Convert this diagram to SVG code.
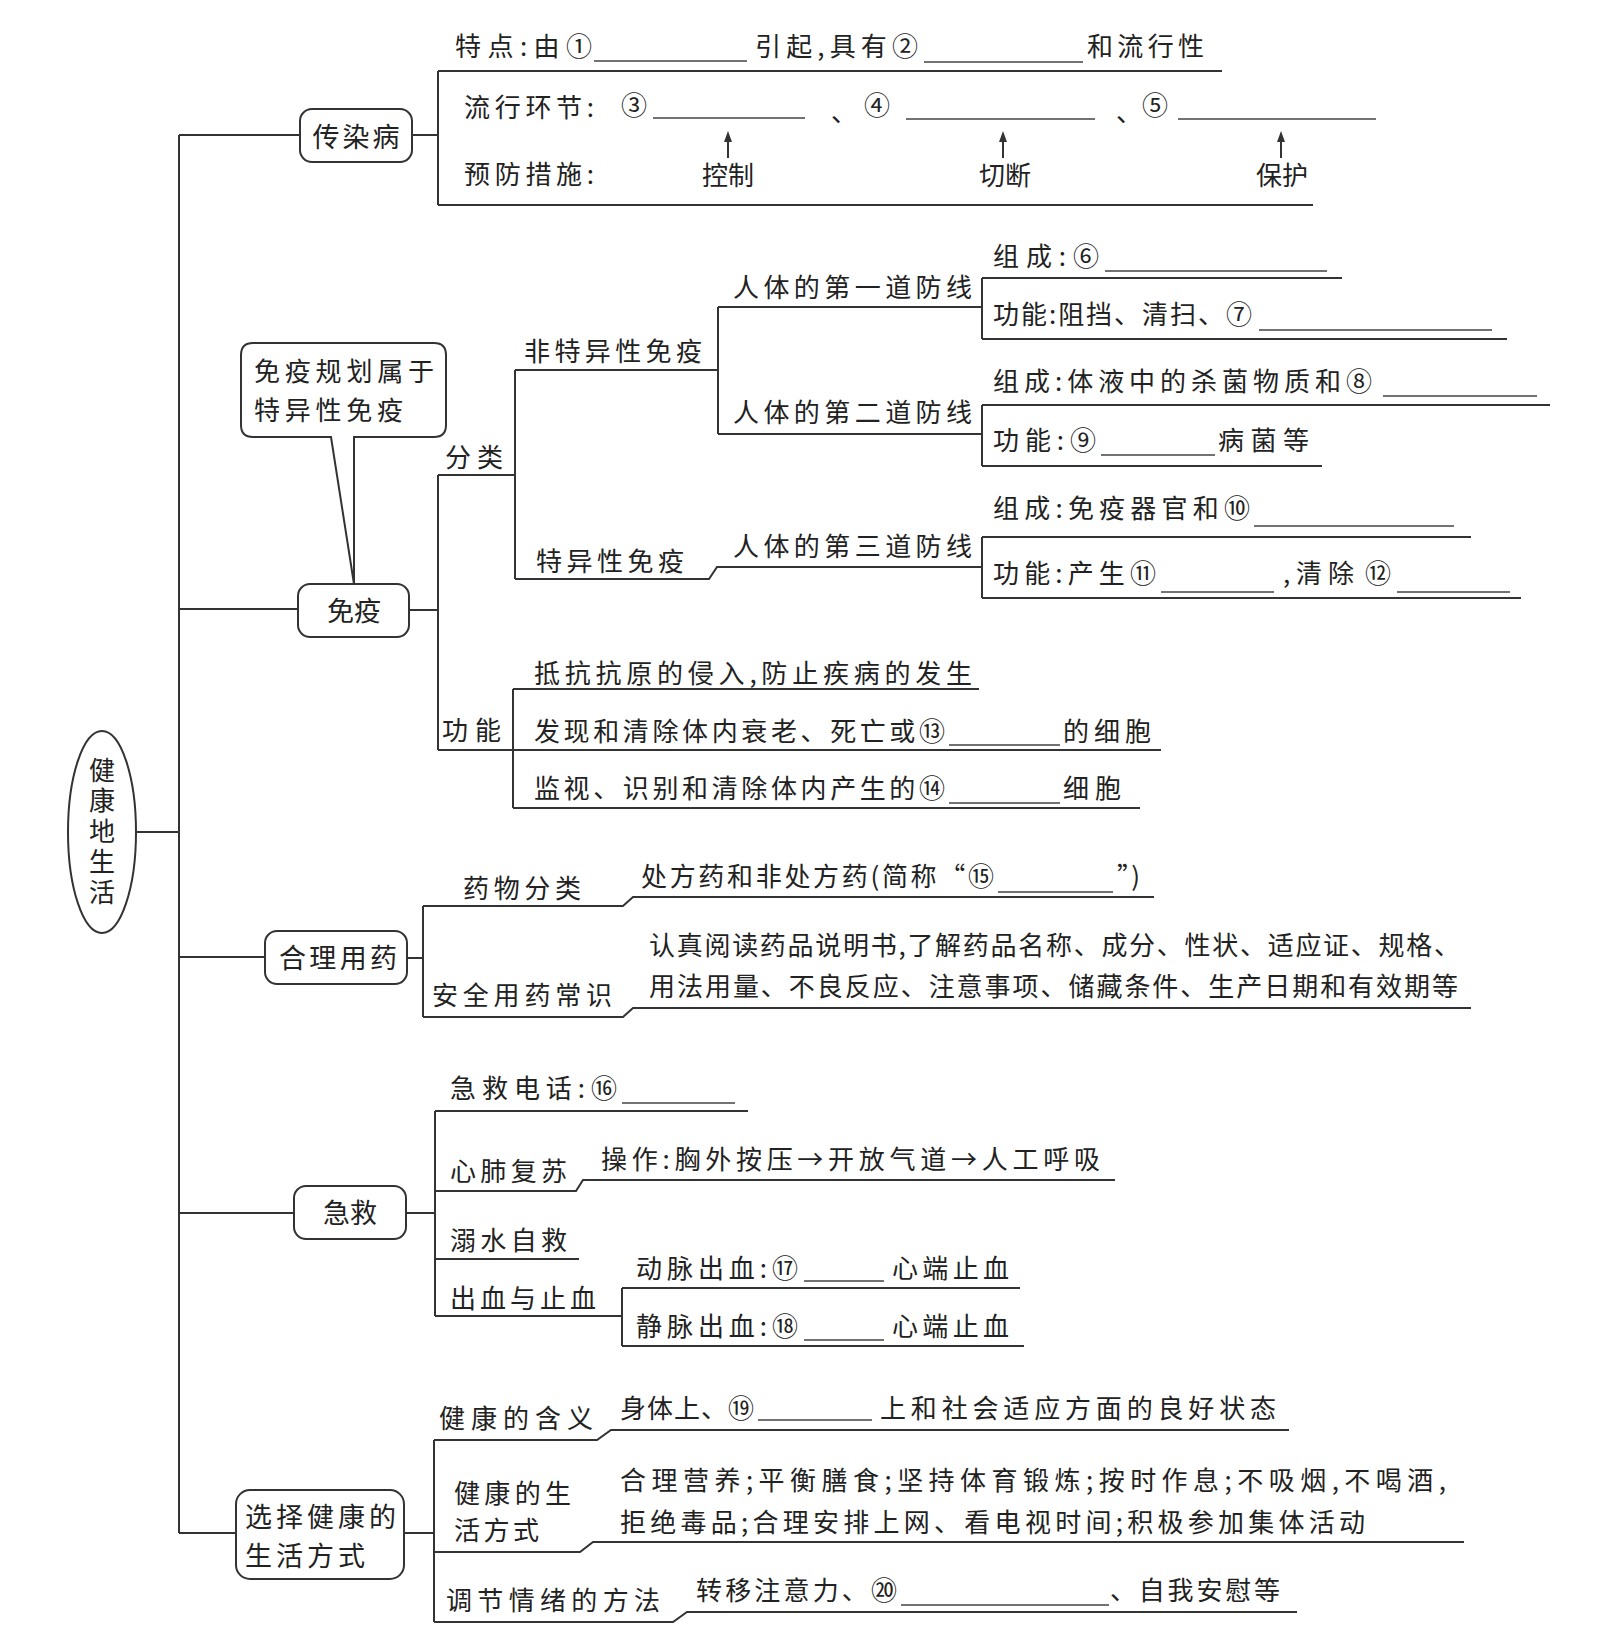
<svg xmlns="http://www.w3.org/2000/svg" width="1608" height="1650" viewBox="0 0 1608 1650">
<style>
.t{font-family:"Noto Sans CJK SC","Noto Sans CJK JP",sans-serif;font-size:26px;fill:#222}
.bt{font-family:"Noto Sans CJK SC","Noto Sans CJK JP",sans-serif;font-size:27px;fill:#222}
.l{stroke:#333;stroke-width:2;fill:none}
.b{stroke:#444;stroke-width:1.5;fill:none}
.n{fill:#fff;stroke:#333;stroke-width:2}
</style>
<rect width="1608" height="1650" fill="#fff"/>
<g id="connectors">
<path class="l" d="M179,135 V1533 M137,832 H179 M179,135 H300 M179,609 H298 M179,957 H265 M179,1213 H294 M179,1533 H236"/>
<path class="l" d="M412,135 H438 M438,71 V205 M438,71 H1222 M438,205 H1313"/>
<path class="l" d="M728,158 V140 M1003,158 V140 M1281,158 V140"/>
<path d="M724,142 L728,131 L732,142 Z M999,142 L1003,131 L1007,142 Z M1277,142 L1281,131 L1285,142 Z" fill="#333"/>
<path class="l" d="M410,610 H438 M438,475 V750 M438,475 H515 M515,370 V579 M515,370 H718 M718,307 V434 M718,307 H982 M718,434 H982 M515,579 H709 L717,567 H982"/>
<path class="l" d="M982,278 V339 M982,278 H1342 M982,339 H1507 M982,405 V466 M982,405 H1550 M982,466 H1322 M982,537 V598 M982,537 H1471 M982,598 H1521"/>
<path class="l" d="M438,750 H1161 M513,689 V808 M513,689 H979 M513,808 H1140"/>
<path class="l" d="M407,958 H423 M423,906 V1017 M423,906 H623 L633,897 H1154 M423,1017 H623 L633,1008 H1471"/>
<path class="l" d="M406,1213 H435 M435,1111 V1316 M435,1111 H748 M435,1191 H576 L583,1180 H1115 M435,1259 H579 M435,1316 H622 M622,1288 V1346 M622,1288 H1020 M622,1346 H1024"/>
<path class="l" d="M404,1533 H434 M434,1440 V1622 M434,1440 H597 L611,1430 H1289 M434,1552 H580 L593,1542 H1464 M434,1622 H673 L687,1612 H1297"/>
</g>
<g id="blanks">
<path class="b" d="M594,61 H747 M924,62 H1083 M653,118 H805 M906,119 H1095 M1178,119 H1376 M1105,271 H1327 M1259,330 H1492 M1383,396 H1537 M1101,455 H1215 M1254,526 H1454 M1161,592 H1274 M1397,592 H1510 M949,745 H1060 M949,803 H1060 M998,892 H1113 M622,1103 H735 M804,1281 H884 M804,1340 H884 M758,1420 H872 M901,1605 H1109"/>
</g>
<g id="root">
<ellipse class="n" cx="102" cy="832" rx="34" ry="101"/>
<text class="t" x="102" y="757" writing-mode="tb" letter-spacing="4.5">健康地生活</text>
</g>
<g id="n-chuanran">
<rect class="n" x="300" y="109" width="112" height="53" rx="12"/>
<text class="bt" x="356" y="147" text-anchor="middle" textLength="87">传染病</text>
</g>
<g id="n-chuanran-items">
<text class="t" x="455" y="56" textLength="137">特点:由①</text>
<text class="t" x="755" y="56" textLength="163">引起,具有②</text>
<text class="t" x="1087" y="56" textLength="117">和流行性</text>
<text class="t" x="464" y="117" textLength="130">流行环节:</text>
<text class="t" x="621" y="115">③</text>
<text class="t" x="831" y="122">、</text>
<text class="t" x="864" y="115">④</text>
<text class="t" x="1116" y="122">、</text>
<text class="t" x="1142" y="115">⑤</text>
<text class="t" x="464" y="184" textLength="130">预防措施:</text>
<text class="t" x="728" y="185" text-anchor="middle">控制</text>
<text class="t" x="1005" y="185" text-anchor="middle">切断</text>
<text class="t" x="1282" y="185" text-anchor="middle">保护</text>
</g>
<g id="n-callout">
<path class="n" d="M253,343 H434 Q446,343 446,355 V425 Q446,437 434,437 H354 V584 L331,437 H253 Q241,437 241,425 V355 Q241,343 253,343 Z"/>
<text class="t" x="254" y="381" textLength="180">免疫规划属于</text>
<text class="t" x="254" y="420" textLength="149">特异性免疫</text>
</g>
<g id="n-mianyi">
<rect class="n" x="298" y="584" width="111" height="53" rx="12"/>
<text class="bt" x="354" y="621" text-anchor="middle">免疫</text>
</g>
<g id="n-mianyi-items">
<text class="t" x="445" y="467" textLength="58">分类</text>
<text class="t" x="524" y="361" textLength="178">非特异性免疫</text>
<text class="t" x="733" y="297" textLength="239">人体的第一道防线</text>
<text class="t" x="733" y="422" textLength="239">人体的第二道防线</text>
<text class="t" x="536" y="571" textLength="148">特异性免疫</text>
<text class="t" x="733" y="556" textLength="239">人体的第三道防线</text>
<text class="t" x="993" y="266" textLength="106">组成:⑥</text>
<text class="t" x="993" y="324" textLength="259">功能:阻挡、清扫、⑦</text>
<text class="t" x="993" y="391" textLength="379">组成:体液中的杀菌物质和⑧</text>
<text class="t" x="993" y="450" textLength="103">功能:⑨</text>
<text class="t" x="1218" y="450" textLength="91">病菌等</text>
<text class="t" x="993" y="518" textLength="257">组成:免疫器官和⑩</text>
<text class="t" x="993" y="583" textLength="163">功能:产生⑪</text>
<text class="t" x="1283" y="583" textLength="71">,清除</text>
<text class="t" x="1365" y="583">⑫</text>
<text class="t" x="442" y="740" textLength="59">功能</text>
<text class="t" x="534" y="683" textLength="438">抵抗抗原的侵入,防止疾病的发生</text>
<text class="t" x="534" y="741" textLength="411">发现和清除体内衰老、死亡或⑬</text>
<text class="t" x="1063" y="741" textLength="88">的细胞</text>
<text class="t" x="534" y="798" textLength="411">监视、识别和清除体内产生的⑭</text>
<text class="t" x="1063" y="798" textLength="58">细胞</text>
</g>
<g id="n-yongyao">
<rect class="n" x="265" y="931" width="142" height="53" rx="12"/>
<text class="bt" x="338" y="968" text-anchor="middle" textLength="118">合理用药</text>
</g>
<g id="n-yongyao-items">
<text class="t" x="463" y="898" textLength="118">药物分类</text>
<text class="t" x="641" y="886" textLength="353">处方药和非处方药(简称“⑮</text>
<text class="t" x="1117" y="886" textLength="23">”)</text>
<text class="t" x="432" y="1005" textLength="180">安全用药常识</text>
<text class="t" x="649" y="955" textLength="811">认真阅读药品说明书,了解药品名称、成分、性状、适应证、规格、</text>
<text class="t" x="649" y="996" textLength="809">用法用量、不良反应、注意事项、储藏条件、生产日期和有效期等</text>
</g>
<g id="n-jijiu">
<rect class="n" x="294" y="1186" width="112" height="53" rx="12"/>
<text class="bt" x="350" y="1223" text-anchor="middle">急救</text>
</g>
<g id="n-jijiu-items">
<text class="t" x="450" y="1098" textLength="167">急救电话:⑯</text>
<text class="t" x="450" y="1181" textLength="117">心肺复苏</text>
<text class="t" x="601" y="1169" textLength="499">操作:胸外按压→开放气道→人工呼吸</text>
<text class="t" x="450" y="1250" textLength="117">溺水自救</text>
<text class="t" x="450" y="1308" textLength="146">出血与止血</text>
<text class="t" x="636" y="1278" textLength="162">动脉出血:⑰</text>
<text class="t" x="892" y="1278" textLength="117">心端止血</text>
<text class="t" x="636" y="1336" textLength="162">静脉出血:⑱</text>
<text class="t" x="892" y="1336" textLength="117">心端止血</text>
</g>
<g id="n-shenghuo">
<rect class="n" x="236" y="1490" width="168" height="89" rx="14"/>
<text class="bt" x="245" y="1527" textLength="151">选择健康的</text>
<text class="bt" x="245" y="1566" textLength="120">生活方式</text>
</g>
<g id="n-shenghuo-items">
<text class="t" x="439" y="1428" textLength="154">健康的含义</text>
<text class="t" x="620" y="1418" textLength="134">身体上、⑲</text>
<text class="t" x="880" y="1418" textLength="396">上和社会适应方面的良好状态</text>
<text class="t" x="454" y="1503" textLength="117">健康的生</text>
<text class="t" x="454" y="1540" textLength="85">活方式</text>
<text class="t" x="620" y="1490" textLength="826">合理营养;平衡膳食;坚持体育锻炼;按时作息;不吸烟,不喝酒,</text>
<text class="t" x="620" y="1532" textLength="745">拒绝毒品;合理安排上网、看电视时间;积极参加集体活动</text>
<text class="t" x="446" y="1610" textLength="214">调节情绪的方法</text>
<text class="t" x="696" y="1600" textLength="201">转移注意力、⑳</text>
<text class="t" x="1110" y="1600" textLength="170">、自我安慰等</text>
</g>
</svg>
